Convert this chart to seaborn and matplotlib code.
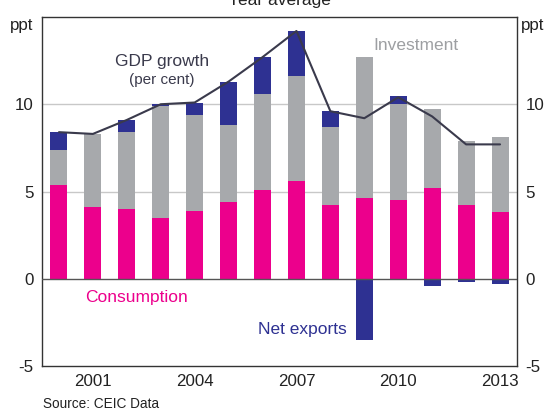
import numpy as np
import pandas as pd
import matplotlib
matplotlib.use("Agg")
import matplotlib.pyplot as plt
import seaborn as sns

years = ["2000", "2001", "2002", "2003", "2004", "2005", "2006",
         "2007", "2008", "2009", "2010", "2011", "2012", "2013"]
consumption = [5.4, 4.1, 4.0, 3.5, 3.9, 4.4, 5.1, 5.6, 4.2, 4.6, 4.5, 5.2, 4.2, 3.8]
investment = [2.0, 4.2, 4.4, 6.4, 5.5, 4.4, 5.5, 6.0, 4.5, 8.1, 5.5, 4.5, 3.7, 4.3]
net_exports = [1.0, 0.0, 0.7, 0.1, 0.7, 2.5, 2.1, 2.6, 0.9, -3.5, 0.5, -0.4, -0.2, -0.3]
gdp_growth = [8.4, 8.3, 9.1, 10.0, 10.1, 11.3, 12.7, 14.2, 9.6, 9.2, 10.4, 9.3, 7.7, 7.7]
xtick_years = ["2001", "2004", "2007", "2010", "2013"]
yticks = [-5, 0, 5, 10]

C_CONS = "#ec008c"
C_INV = "#a7a9ac"
C_NX = "#2e3192"
C_LINE = "#3a3a4c"
C_TEXT = "#222222"

sns.set_style("white")
plt.rcParams["font.family"] = ["Liberation Sans", "DejaVu Sans"]
plt.rcParams["font.size"] = 12.2

df = pd.DataFrame({
    "year": years,
    "cons": consumption,
    "inv": investment,
    "nx": net_exports,
    "gdp": gdp_growth,
})
df["ci"] = df["cons"] + df["inv"]
df["top"] = df["ci"] + df["nx"].clip(lower=0)
df["neg"] = df["nx"].clip(upper=0)
df["pos"] = np.arange(len(df))

fig = plt.figure(figsize=(5.51, 4.11), dpi=100)
ax = fig.add_axes([42 / 551, 1 - 366 / 411, 475 / 551, 349 / 411])

for yv in [5, 10]:
    ax.axhline(yv, color="#c8c8c8", lw=1.0, zorder=0)

common = dict(data=df, x="year", order=years, width=0.5, saturation=1,
              linewidth=0, ax=ax, zorder=2)
sns.barplot(y="top", color=C_NX, **common)
sns.barplot(y="ci", color=C_INV, **common)
sns.barplot(y="cons", color=C_CONS, **common)
sns.barplot(y="neg", color=C_NX, **common)

ax.axhline(0, color="#555555", lw=1.0, zorder=3)

sns.lineplot(data=df, x="pos", y="gdp", color=C_LINE, lw=1.5, ax=ax,
             zorder=4, sort=False)

ax.set_xlim(-0.5, len(years) - 0.5)
ax.set_ylim(-5, 15)
ax.set_xlabel("")
ax.set_ylabel("")

ax.set_xticks([years.index(y) for y in xtick_years])
ax.set_xticklabels(xtick_years)
ax.set_xticks(np.arange(0.5, len(years) - 1, 1), minor=True)
ax.tick_params(axis="x", which="major", length=0, pad=6, colors=C_TEXT,
               labelsize=12.2)
ax.tick_params(axis="x", which="minor", direction="in", length=6,
               width=1, color="#333333")

ax.set_yticks(yticks)
ax.set_yticklabels([str(v) for v in yticks])
ax.tick_params(axis="y", which="both", length=0, pad=6, colors=C_TEXT,
               labelsize=12.2, left=True, right=True, labelleft=True,
               labelright=True)

for s in ax.spines.values():
    s.set_visible(True)
    s.set_color("#333333")
    s.set_linewidth(1.0)

# unit labels
ax.text(-0.018, 0.977, "ppt", transform=ax.transAxes, ha="right", va="center",
        fontsize=12.2, color=C_TEXT)
ax.text(1.008, 0.977, "ppt", transform=ax.transAxes, ha="left", va="center",
        fontsize=12.2, color=C_TEXT)

# series labels
ax.text(3.04, 12.45, "GDP growth", ha="center", va="center", fontsize=12.5,
        color="#3a3a4c")
ax.text(3.04, 11.4, "(per cent)", ha="center", va="center", fontsize=11,
        color="#3a3a4c")
ax.text(10.53, 13.35, "Investment", ha="center", va="center", fontsize=12.5,
        color="#9d9fa2")
ax.text(2.3, -1.1, "Consumption", ha="center", va="center", fontsize=12.5,
        color=C_CONS)
ax.text(7.18, -2.92, "Net exports", ha="center", va="center", fontsize=12.5,
        color=C_NX)

fig.text(279.5 / 551, 1 - 5 / 411, "Year average", ha="center",
         va="baseline", fontsize=12.5, color=C_TEXT)
fig.text(43 / 551, 1 - 404 / 411, "Source: CEIC Data", ha="left",
         va="center", fontsize=9.8, color=C_TEXT)

fig.savefig("out.png", dpi=100)
